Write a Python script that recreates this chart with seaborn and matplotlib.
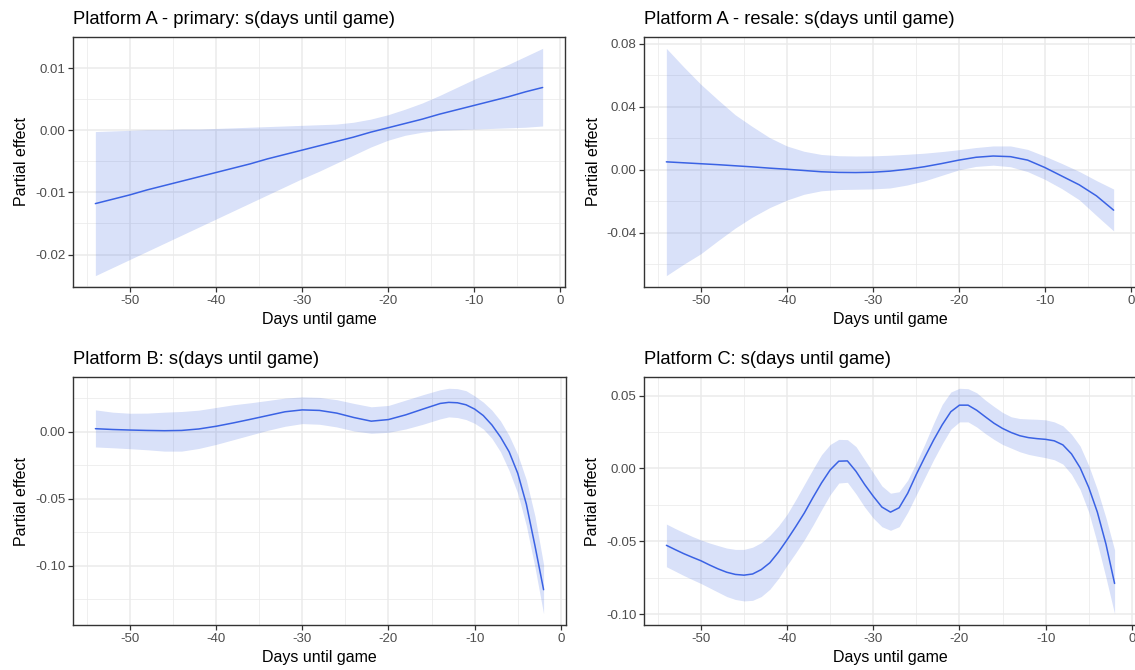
import numpy as np
import pandas as pd
import seaborn as sns
import matplotlib
matplotlib.use("Agg")
import matplotlib.pyplot as plt
from matplotlib.ticker import MultipleLocator, FixedLocator

# ---------------- data ----------------
days_a = [-54, -52, -50, -48, -46, -44, -42, -40, -38, -36, -34, -32, -30, -28,
          -26, -24, -22, -20, -18, -16, -14, -12, -10, -8, -6, -4, -2]
days_b = [-54, -52, -50, -48, -46, -44, -42, -40, -38, -36, -34, -32, -30, -28,
          -26, -24, -22, -20, -18, -16, -14, -13, -12, -11, -10, -9, -8, -7,
          -6, -5, -4, -3, -2]
days_c = [-54, -53, -52, -51, -50, -49, -48, -47, -46, -45, -44, -43, -42, -41,
          -40, -39, -38, -37, -36, -35, -34, -33, -32, -31, -30, -29, -28, -27,
          -26, -25, -24, -23, -22, -21, -20, -19, -18, -17, -16, -15, -14, -13,
          -12, -11, -10, -9, -8, -7, -6, -5, -4, -3, -2]

titles = ["Platform A - primary: s(days until game)",
          "Platform A - resale: s(days until game)",
          "Platform B: s(days until game)",
          "Platform C: s(days until game)"]

a_primary_fit = [-0.0118, -0.0111, -0.0104, -0.0096, -0.0089, -0.0082, -0.0075, -0.0068, -0.0061,
                 -0.0054, -0.0046, -0.0039, -0.0032, -0.0025, -0.0018, -0.0011, -0.0003, 0.0004,
                 0.0011, 0.0018, 0.0026, 0.0033, 0.0040, 0.0047, 0.0054, 0.0062, 0.0069]
a_primary_hi = [-0.0002, -0.0001, 0.0000, 0.0001, 0.0001, 0.0002, 0.0002, 0.0003, 0.0004,
                0.0005, 0.0006, 0.0007, 0.0008, 0.0009, 0.0010, 0.0013, 0.0018, 0.0025,
                0.0034, 0.0044, 0.0056, 0.0069, 0.0082, 0.0094, 0.0106, 0.0119, 0.0132]
a_primary_lo = [-0.0234, -0.0221, -0.0208, -0.0195, -0.0182, -0.0169, -0.0156, -0.0143, -0.0130,
                -0.0117, -0.0104, -0.0091, -0.0078, -0.0066, -0.0053, -0.0040, -0.0027, -0.0016,
                -0.0008, -0.0003, 0.0000, 0.0001, 0.0002, 0.0003, 0.0004, 0.0005, 0.0007]

a_resale_fit = [0.0051, 0.0045, 0.0039, 0.0033, 0.0026, 0.0019, 0.0011, 0.0004, -0.0004,
                -0.0012, -0.0016, -0.0017, -0.0015, -0.0008, 0.0004, 0.0020, 0.0040, 0.0062,
                0.0080, 0.0088, 0.0084, 0.0062, 0.0015, -0.0040, -0.0095, -0.0165, -0.0256]
a_resale_hi = [0.0772, 0.0655, 0.0544, 0.0445, 0.0350, 0.0275, 0.0205, 0.0152, 0.0118,
               0.0098, 0.0090, 0.0088, 0.0089, 0.0093, 0.0099, 0.0106, 0.0116, 0.0128,
               0.0142, 0.0152, 0.0152, 0.0130, 0.0087, 0.0040, -0.0010, -0.0068, -0.0122]
a_resale_lo = [-0.0672, -0.0600, -0.0533, -0.0450, -0.0370, -0.0300, -0.0240, -0.0192, -0.0155,
               -0.0133, -0.0125, -0.0123, -0.0121, -0.0115, -0.0096, -0.0070, -0.0035, 0.0000,
               0.0022, 0.0030, 0.0020, -0.0011, -0.0060, -0.0120, -0.0190, -0.0290, -0.0388]

b_fit = [0.0022, 0.0016, 0.0012, 0.0009, 0.0007, 0.0009, 0.0020, 0.0040, 0.0065,
         0.0092, 0.0120, 0.0148, 0.0162, 0.0158, 0.0138, 0.0105, 0.0078, 0.0090,
         0.0125, 0.0168, 0.0210, 0.0218, 0.0215, 0.0200, 0.0168, 0.0120, 0.0050,
         -0.0040, -0.0150, -0.0310, -0.0540, -0.0850, -0.1177]
b_hi = [0.0162, 0.0145, 0.0137, 0.0138, 0.0145, 0.0150, 0.0160, 0.0180, 0.0200,
        0.0215, 0.0232, 0.0250, 0.0259, 0.0255, 0.0238, 0.0210, 0.0185, 0.0195,
        0.0235, 0.0275, 0.0312, 0.0323, 0.0320, 0.0305, 0.0266, 0.0220, 0.0160,
        0.0080, -0.0030, -0.0170, -0.0360, -0.0630, -0.0990]
b_lo = [-0.0114, -0.0120, -0.0127, -0.0135, -0.0145, -0.0145, -0.0125, -0.0095, -0.0060,
        -0.0025, 0.0010, 0.0040, 0.0060, 0.0055, 0.0035, 0.0005, -0.0012, -0.0005,
        0.0020, 0.0055, 0.0095, 0.0110, 0.0105, 0.0090, 0.0062, 0.0020, -0.0050,
        -0.0150, -0.0290, -0.0460, -0.0700, -0.1010, -0.1356]

c_fit = [-0.0528, -0.0557, -0.0585, -0.0610, -0.0634, -0.0663, -0.0690, -0.0713, -0.0728,
         -0.0733, -0.0725, -0.0695, -0.0648, -0.0575, -0.0490, -0.0400, -0.0306, -0.0200,
         -0.0099, -0.0010, 0.0050, 0.0052, -0.0020, -0.0110, -0.0191, -0.0265, -0.0300,
         -0.0270, -0.0170, -0.0040, 0.0080, 0.0195, 0.0300, 0.0390, 0.0435, 0.0435,
         0.0400, 0.0355, 0.0311, 0.0275, 0.0247, 0.0225, 0.0212, 0.0205, 0.0200,
         0.0190, 0.0162, 0.0100, 0.0005, -0.0130, -0.0300, -0.0520, -0.0790]
c_hi = [-0.0382, -0.0412, -0.0440, -0.0467, -0.0491, -0.0512, -0.0530, -0.0547, -0.0556,
        -0.0556, -0.0541, -0.0510, -0.0460, -0.0395, -0.0315, -0.0215, -0.0110, -0.0005,
        0.0095, 0.0165, 0.0200, 0.0198, 0.0150, 0.0060, -0.0030, -0.0120, -0.0170,
        -0.0160, -0.0080, 0.0040, 0.0170, 0.0310, 0.0440, 0.0525, 0.0551, 0.0548,
        0.0520, 0.0470, 0.0426, 0.0385, 0.0355, 0.0343, 0.0340, 0.0338, 0.0334,
        0.0320, 0.0293, 0.0235, 0.0154, 0.0020, -0.0145, -0.0340, -0.0560]
c_lo = [-0.0675, -0.0705, -0.0735, -0.0763, -0.0790, -0.0820, -0.0850, -0.0880, -0.0900,
        -0.0910, -0.0906, -0.0880, -0.0830, -0.0755, -0.0665, -0.0580, -0.0490, -0.0390,
        -0.0283, -0.0180, -0.0100, -0.0095, -0.0175, -0.0265, -0.0341, -0.0400, -0.0425,
        -0.0400, -0.0300, -0.0180, -0.0060, 0.0060, 0.0170, 0.0270, 0.0320, 0.0320,
        0.0285, 0.0240, 0.0200, 0.0165, 0.0140, 0.0115, 0.0097, 0.0085, 0.0074,
        0.0060, 0.0030, -0.0040, -0.0145, -0.0300, -0.0514, -0.0750, -0.0998]

x_ticks = [-50, -40, -30, -20, -10, 0]
y_ticks = [[-0.02, -0.01, 0.00, 0.01],
           [-0.04, 0.00, 0.04, 0.08],
           [-0.10, -0.05, 0.00],
           [-0.10, -0.05, 0.00, 0.05]]
y_labels = [["-0.02", "-0.01", "0.00", "0.01"],
            ["-0.04", "0.00", "0.04", "0.08"],
            ["-0.10", "-0.05", "0.00"],
            ["-0.10", "-0.05", "0.00", "0.05"]]

series = [(days_a, a_primary_fit, a_primary_lo, a_primary_hi),
          (days_a, a_resale_fit, a_resale_lo, a_resale_hi),
          (days_b, b_fit, b_lo, b_hi),
          (days_c, c_fit, c_lo, c_hi)]

# ---------------- style ----------------
sns.set_theme(style="white")
plt.rcParams["font.family"] = ["Liberation Sans", "DejaVu Sans"]
plt.rcParams["axes.unicode_minus"] = False

LINE = "#3A62E4"
FILL = "#4169E1"
GRID = "#EBEBEB"
DARK = "#333333"

W, H = 1135, 670
fig = plt.figure(figsize=(W / 100, H / 100), dpi=100)
fig.patch.set_facecolor("white")

# panel boxes in pixels: left, top, right, bottom
boxes = [(73, 37, 565, 287), (644, 37, 1136, 287),
         (73, 377, 566, 625), (644, 377, 1137, 625)]

for i, (box, (days, fit, lo, hi)) in enumerate(zip(boxes, series)):
    l, t, r, b = box
    ax = fig.add_axes([l / W, (H - b) / H, (r - l) / W, (b - t) / H])
    df = pd.DataFrame({"days": days, "fit": fit, "lo": lo, "hi": hi})
    ax.fill_between(df["days"], df["lo"], df["hi"], color=FILL, alpha=0.2,
                    linewidth=0, zorder=2)
    sns.lineplot(data=df, x="days", y="fit", ax=ax, color=LINE, linewidth=1.1,
                 zorder=3)

    xr = max(days) - min(days)
    ax.set_xlim(min(days) - 0.05 * xr, max(days) + 0.05 * xr)
    ymin, ymax = min(lo), max(hi)
    yr = ymax - ymin
    ax.set_ylim(ymin - 0.05 * yr, ymax + 0.05 * yr)

    ax.xaxis.set_major_locator(FixedLocator(x_ticks))
    ax.xaxis.set_minor_locator(MultipleLocator(5))
    ax.set_yticks(y_ticks[i])
    ax.set_yticklabels(y_labels[i])
    step = y_ticks[i][1] - y_ticks[i][0]
    ax.yaxis.set_minor_locator(MultipleLocator(step / 2))

    ax.grid(which="major", color=GRID, linewidth=1.1, zorder=0)
    ax.grid(which="minor", color=GRID, linewidth=0.55, zorder=0)
    ax.set_axisbelow(True)

    for s in ax.spines.values():
        s.set_color(DARK)
        s.set_linewidth(1.0)
        s.set_visible(True)

    ax.tick_params(which="major", direction="out", length=3.5, width=0.9,
                   color=DARK, labelsize=9.5, labelcolor="#4D4D4D", pad=2,
                   bottom=True, left=True)
    ax.tick_params(which="minor", length=0)

    ax.set_xlabel("Days until game", fontsize=11.5, color="black", labelpad=4)
    ax.set_ylabel("Partial effect", fontsize=11.5, color="black", labelpad=4)
    ax.set_title(titles[i], loc="left", fontsize=13.2, color="black", pad=9)

fig.savefig("out.png", dpi=100, facecolor="white")
